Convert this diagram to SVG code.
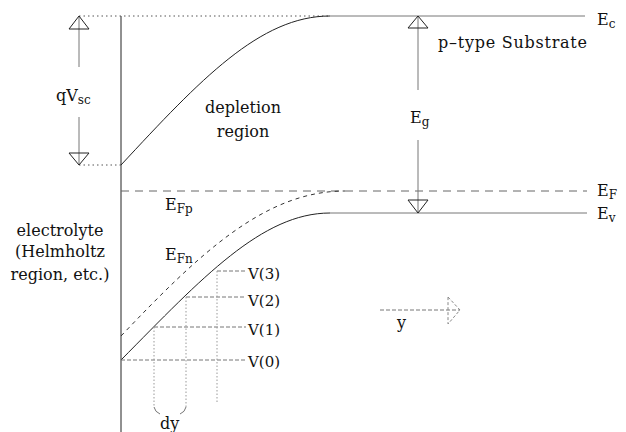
<svg xmlns="http://www.w3.org/2000/svg" width="626" height="432" viewBox="0 0 626 432">
<style>
text{font-family:"DejaVu Serif","Liberation Serif",serif;fill:#111;font-size:16px}
.sub{font-size:12px}
.lbl{font-size:15px}
.solid{fill:none;stroke:#222;stroke-width:1}
.gray{fill:none;stroke:#777;stroke-width:1}
.dot{fill:none;stroke:#555;stroke-width:1;stroke-dasharray:1.5 3}
.dash{fill:none;stroke:#666;stroke-width:1;stroke-dasharray:8 6}
.fdash{fill:none;stroke:#333;stroke-width:1;stroke-dasharray:4 4}
.vdash{fill:none;stroke:#777;stroke-width:1;stroke-dasharray:4 2}
.vdot{fill:none;stroke:#999;stroke-width:1;stroke-dasharray:1.5 2}
.tri{fill:none;stroke:#222;stroke-width:1}
</style>
<rect width="626" height="432" fill="#fff"/>
<g id="bands">
<line class="solid" x1="121" y1="16" x2="121" y2="432"/>
<line class="dot" x1="79" y1="16" x2="330" y2="16"/>
<path class="solid" d="M121,165 C200,80 260,16 330,16"/>
<line class="gray" x1="330" y1="16" x2="585" y2="16"/>
<line class="dot" x1="79" y1="165" x2="121" y2="165"/>
<line class="dash" x1="121" y1="191" x2="587" y2="191"/>
<path class="fdash" d="M121,336 C200,253 265,191 345,191"/>
<path class="solid" d="M121,360 C202,278 262,213 330,213"/>
<line class="gray" x1="330" y1="213" x2="587" y2="213"/>
</g>
<g id="qvsc-arrow">
<line class="gray" x1="79" y1="16" x2="79" y2="67"/>
<line class="gray" x1="79" y1="117" x2="79" y2="165"/>
<polygon class="tri" points="79,16 69,29 89,29"/>
<polygon class="tri" points="69,153 89,153 79,165"/>
<text x="56" y="101">qV<tspan class="sub" dy="3">sc</tspan></text>
</g>
<g id="eg-arrow">
<line class="gray" x1="418" y1="16" x2="418" y2="90"/>
<line class="gray" x1="418" y1="140" x2="418" y2="213"/>
<polygon class="tri" points="418,16 408,28 428,28"/>
<polygon class="tri" points="408,200 428,200 418,213"/>
<text x="410" y="123">E<tspan class="sub" dy="3">g</tspan></text>
</g>
<g id="levels">
<line class="vdash" x1="121" y1="360" x2="246" y2="360"/>
<line class="vdash" x1="154" y1="327" x2="246" y2="327"/>
<line class="vdash" x1="186" y1="297" x2="246" y2="297"/>
<line class="vdash" x1="217" y1="271" x2="247" y2="271"/>
<line class="vdot" x1="154" y1="327" x2="154" y2="407"/>
<line class="vdot" x1="186" y1="297" x2="186" y2="407"/>
<line class="vdot" x1="217" y1="271" x2="217" y2="402"/>
<path class="gray" d="M154,407 Q155,412 160,414"/>
<path class="gray" d="M186,407 Q185,412 180,414"/>
<text class="lbl" x="248" y="279">V(3)</text>
<text class="lbl" x="248" y="306">V(2)</text>
<text class="lbl" x="248" y="335">V(1)</text>
<text class="lbl" x="248" y="367">V(0)</text>
<text x="160" y="429" font-size="18">dy</text>
</g>
<g id="y-axis">
<line class="vdash" x1="380" y1="310" x2="460" y2="310"/>
<polygon points="448,297 460,310 448,324" fill="none" stroke="#888" stroke-dasharray="3 2"/>
<text x="397" y="328" font-size="19">y</text>
</g>
<g id="labels">
<text x="597" y="25">E<tspan class="sub" dy="3">c</tspan></text>
<text x="597" y="196">E<tspan class="sub" dy="3">F</tspan></text>
<text x="597" y="219">E<tspan class="sub" dy="3">v</tspan></text>
<text x="165" y="210">E<tspan class="sub" dy="3">Fp</tspan></text>
<text x="165" y="260">E<tspan class="sub" dy="3">Fn</tspan></text>
<text x="438" y="48" textLength="149" lengthAdjust="spacing">p–type Substrate</text>
<text x="243" y="113" text-anchor="middle">depletion</text>
<text x="243" y="137" text-anchor="middle">region</text>
<text x="60" y="236" text-anchor="middle">electrolyte</text>
<text x="60" y="257" text-anchor="middle">(Helmholtz</text>
<text x="60" y="280" text-anchor="middle">region, etc.)</text>
</g>
</svg>
